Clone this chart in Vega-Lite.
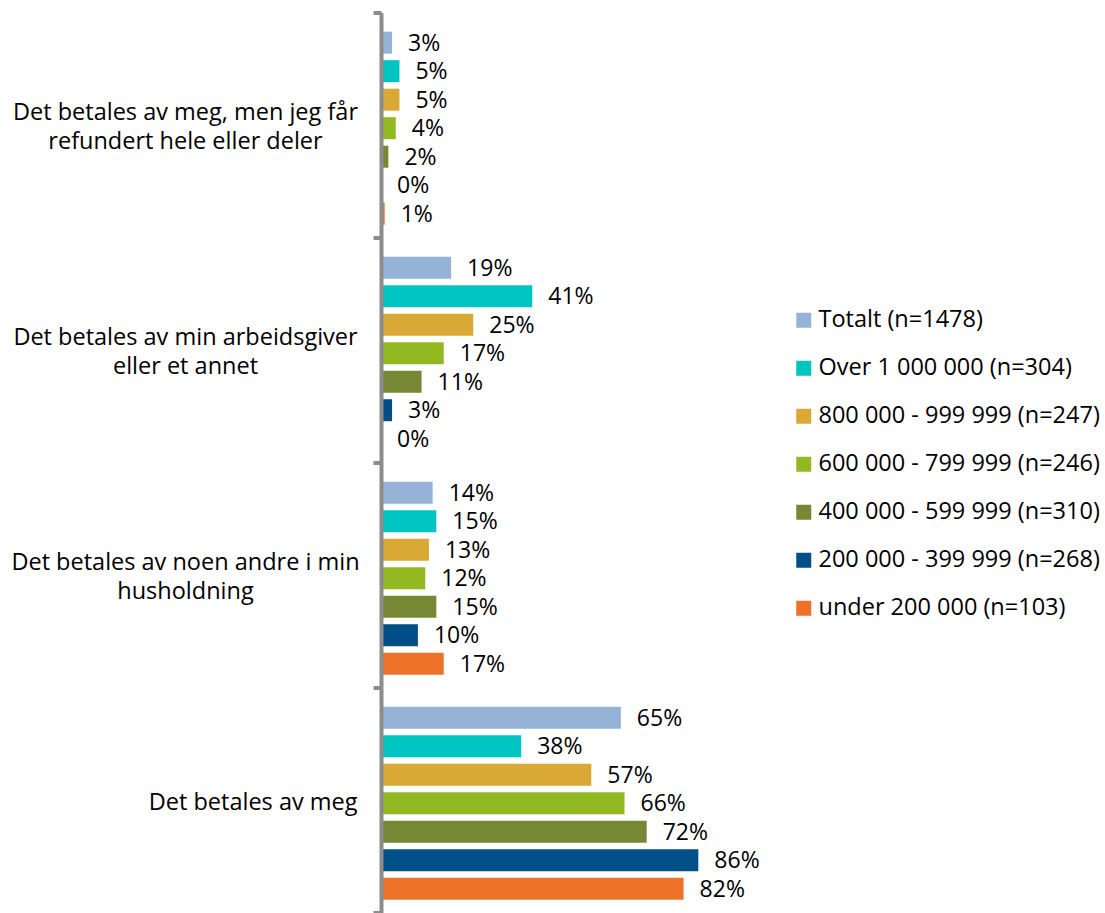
{
  "$schema": "https://vega.github.io/schema/vega-lite/v6.json",
  "width": 369,
  "height": 900,
  "autosize": "none",
  "padding": {"left": 381, "top": 12.5, "right": 355, "bottom": 0.5},
  "background": "white",
  "config": {"view": {"stroke": null}, "font": "Open Sans"},
  "data": {
    "values": [
      {"category": "Det betales av meg, men jeg får refundert hele eller deler", "series": "Totalt (n=1478)", "value": 0.03},
      {"category": "Det betales av meg, men jeg får refundert hele eller deler", "series": "Over 1 000 000 (n=304)", "value": 0.05},
      {"category": "Det betales av meg, men jeg får refundert hele eller deler", "series": "800 000 - 999 999 (n=247)", "value": 0.05},
      {"category": "Det betales av meg, men jeg får refundert hele eller deler", "series": "600 000 - 799 999 (n=246)", "value": 0.04},
      {"category": "Det betales av meg, men jeg får refundert hele eller deler", "series": "400 000 - 599 999 (n=310)", "value": 0.02},
      {"category": "Det betales av meg, men jeg får refundert hele eller deler", "series": "200 000 - 399 999 (n=268)", "value": 0.0},
      {"category": "Det betales av meg, men jeg får refundert hele eller deler", "series": "under 200 000 (n=103)", "value": 0.01},
      {"category": "Det betales av min arbeidsgiver eller et annet", "series": "Totalt (n=1478)", "value": 0.19},
      {"category": "Det betales av min arbeidsgiver eller et annet", "series": "Over 1 000 000 (n=304)", "value": 0.41},
      {"category": "Det betales av min arbeidsgiver eller et annet", "series": "800 000 - 999 999 (n=247)", "value": 0.25},
      {"category": "Det betales av min arbeidsgiver eller et annet", "series": "600 000 - 799 999 (n=246)", "value": 0.17},
      {"category": "Det betales av min arbeidsgiver eller et annet", "series": "400 000 - 599 999 (n=310)", "value": 0.11},
      {"category": "Det betales av min arbeidsgiver eller et annet", "series": "200 000 - 399 999 (n=268)", "value": 0.03},
      {"category": "Det betales av min arbeidsgiver eller et annet", "series": "under 200 000 (n=103)", "value": 0.0},
      {"category": "Det betales av noen andre i min husholdning", "series": "Totalt (n=1478)", "value": 0.14},
      {"category": "Det betales av noen andre i min husholdning", "series": "Over 1 000 000 (n=304)", "value": 0.15},
      {"category": "Det betales av noen andre i min husholdning", "series": "800 000 - 999 999 (n=247)", "value": 0.13},
      {"category": "Det betales av noen andre i min husholdning", "series": "600 000 - 799 999 (n=246)", "value": 0.12},
      {"category": "Det betales av noen andre i min husholdning", "series": "400 000 - 599 999 (n=310)", "value": 0.15},
      {"category": "Det betales av noen andre i min husholdning", "series": "200 000 - 399 999 (n=268)", "value": 0.10},
      {"category": "Det betales av noen andre i min husholdning", "series": "under 200 000 (n=103)", "value": 0.17},
      {"category": "Det betales av meg", "series": "Totalt (n=1478)", "value": 0.65},
      {"category": "Det betales av meg", "series": "Over 1 000 000 (n=304)", "value": 0.38},
      {"category": "Det betales av meg", "series": "800 000 - 999 999 (n=247)", "value": 0.57},
      {"category": "Det betales av meg", "series": "600 000 - 799 999 (n=246)", "value": 0.66},
      {"category": "Det betales av meg", "series": "400 000 - 599 999 (n=310)", "value": 0.72},
      {"category": "Det betales av meg", "series": "200 000 - 399 999 (n=268)", "value": 0.86},
      {"category": "Det betales av meg", "series": "under 200 000 (n=103)", "value": 0.82}
    ]
  },
  "encoding": {
    "y": {
      "field": "category",
      "type": "nominal",
      "sort": null,
      "scale": {"paddingInner": 0, "paddingOuter": 0},
      "axis": {
        "title": null,
        "zindex": 1,
        "domainColor": "#8C8C8C",
        "domainWidth": 4,
        "tickColor": "#8C8C8C",
        "tickWidth": 4,
        "tickSize": 8,
        "tickBand": "extent",
        "labelFontSize": 23.5,
        "labelColor": "#000000",
        "labelLineHeight": 29,
        "labelLimit": 400,
        "labelBaseline": "middle",
        "labelAlign": {"condition": {"test": "datum.value == 'Det betales av meg'", "value": "right"}, "value": "center"},
        "labelPadding": {"condition": {"test": "datum.value == 'Det betales av meg'", "value": 16}, "value": 188},
        "labelOffset": {"condition": {"test": "datum.value == 'Det betales av meg'", "value": 2}, "value": -13},
        "labelExpr": "datum.value == 'Det betales av meg, men jeg får refundert hele eller deler' ? ['Det betales av meg, men jeg får', 'refundert hele eller deler'] : datum.value == 'Det betales av min arbeidsgiver eller et annet' ? ['Det betales av min arbeidsgiver', 'eller et annet'] : datum.value == 'Det betales av noen andre i min husholdning' ? ['Det betales av noen andre i min', 'husholdning'] : datum.value"
      }
    },
    "yOffset": {"field": "series", "sort": null, "scale": {"paddingInner": 0.228, "paddingOuter": 0.56, "align": 0.6}},
    "x": {"field": "value", "type": "quantitative", "scale": {"domain": [0, 1], "nice": false}, "axis": null}
  },
  "layer": [
    {
      "mark": {"type": "bar"},
      "encoding": {
        "color": {
          "field": "series",
          "type": "nominal",
          "sort": null,
          "scale": {
            "domain": ["Totalt (n=1478)", "Over 1 000 000 (n=304)", "800 000 - 999 999 (n=247)", "600 000 - 799 999 (n=246)", "400 000 - 599 999 (n=310)", "200 000 - 399 999 (n=268)", "under 200 000 (n=103)"],
            "range": ["#95B3D7", "#00C4C2", "#DAA935", "#93B922", "#778834", "#004F88", "#ED7128"]
          },
          "legend": {
            "title": null,
            "orient": "none",
            "legendX": 411,
            "legendY": 296,
            "symbolType": "square",
            "symbolSize": 225,
            "symbolStrokeWidth": 0,
            "labelFontSize": 23.5,
            "labelColor": "#000000",
            "labelOffset": 3,
            "rowPadding": 23,
            "labelLimit": 400
          }
        }
      }
    },
    {
      "mark": {"type": "text", "align": "left", "baseline": "middle", "dx": 16, "dy": 1, "fontSize": 23, "color": "#000000"},
      "encoding": {"text": {"field": "value", "type": "quantitative", "format": ".0%"}}
    }
  ]
}
